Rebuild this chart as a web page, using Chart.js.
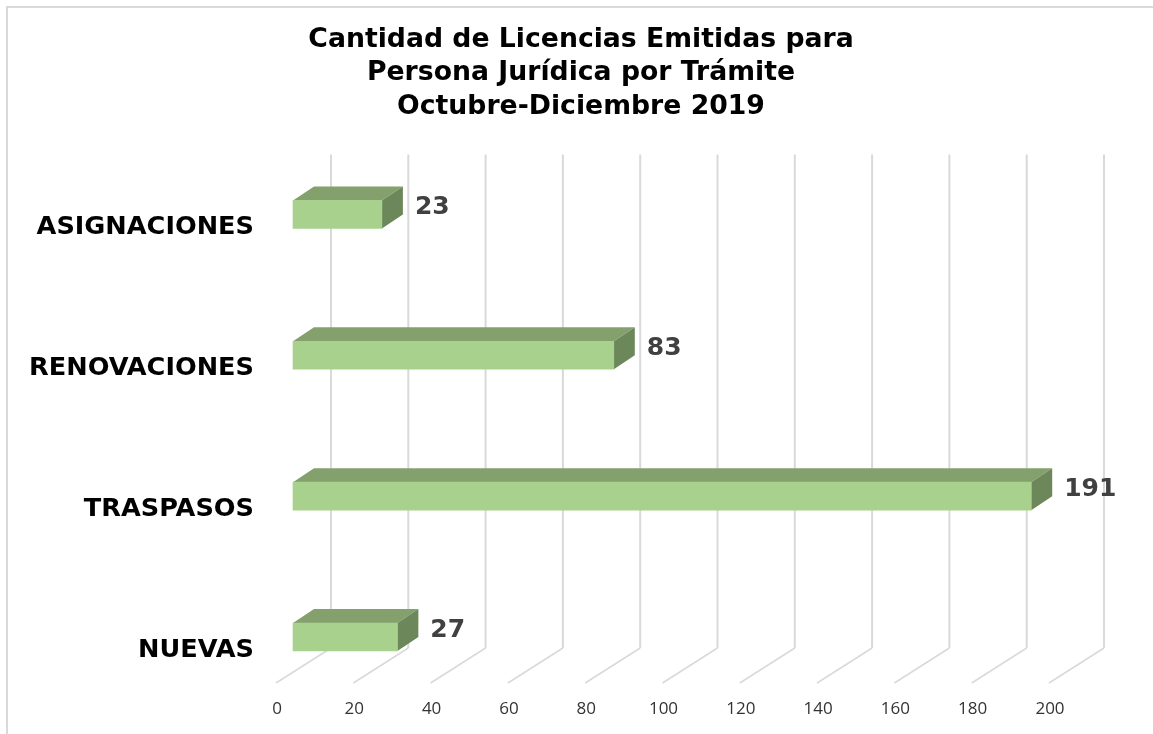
<!DOCTYPE html>
<html>
<head>
<meta charset="utf-8">
<title>Licencias Persona Jurídica</title>
<script src="https://cdn.jsdelivr.net/npm/chart.js@4"></script>
<style>
  html, body { margin: 0; padding: 0; background: #fff; }
  #wrap { width: 1153px; height: 734px; }
</style>
</head>
<body>
<div id="wrap"><canvas id="chart" width="1153" height="734"></canvas></div>
<script>
const tituloLineas = [
  "Cantidad de Licencias Emitidas para",
  "Persona Jurídica por Trámite",
  "Octubre-Diciembre 2019",
];
const tramites = ["ASIGNACIONES", "RENOVACIONES", "TRASPASOS", "NUEVAS"];
const licencias = [23, 83, 191, 27];
const ejeMin = 0;
const ejeMax = 200;
const ejePaso = 20;

const FONT = "'DejaVu Sans', Verdana, sans-serif";
// profundidad del efecto 3D
const depthX = 21;
const depthY = 14;

const efecto3d = {
  id: "efecto3d",
  afterLayout(chart) {
    // el titulo va centrado en todo el lienzo, no en el area del grafico
    chart.titleBlock.left = 9;
    chart.titleBlock.right = chart.width;
  },
  beforeDraw(chart) {
    const c = chart.ctx;
    c.save();
    c.strokeStyle = "#d9d9d9";
    c.lineWidth = 2;
    c.strokeRect(7, 7, 1200, 760);
    c.restore();
  },
  beforeDatasetsDraw(chart) {
    const c = chart.ctx;
    const xs = chart.scales.x;
    const area = chart.chartArea;
    const wallTop = area.top - 60;
    const wallBottom = area.bottom + 11;
    const floorBottom = area.bottom + 46;

    c.save();
    c.strokeStyle = "#d9d9d9";
    xs.ticks.forEach((t, i) => {
      const px = xs.getPixelForTick(i);
      c.lineWidth = 2;
      c.beginPath();
      c.moveTo(px + 38, wallTop);
      c.lineTo(px + 38, wallBottom);
      c.stroke();
      c.lineWidth = 1.5;
      c.beginPath();
      c.moveTo(px + 38, wallBottom);
      c.lineTo(px - 17, floorBottom);
      c.stroke();
    });

    // caras superior y lateral de cada barra
    chart.getDatasetMeta(0).data.forEach((bar) => {
      const top = bar.y - bar.height / 2;
      const bottom = bar.y + bar.height / 2;
      c.fillStyle = "#83a06d";
      c.beginPath();
      c.moveTo(bar.base, top);
      c.lineTo(bar.base + depthX, top - depthY);
      c.lineTo(bar.x + depthX, top - depthY);
      c.lineTo(bar.x, top);
      c.closePath();
      c.fill();
      c.fillStyle = "#6c8759";
      c.beginPath();
      c.moveTo(bar.x, top);
      c.lineTo(bar.x + depthX, top - depthY);
      c.lineTo(bar.x + depthX, bottom - depthY);
      c.lineTo(bar.x, bottom);
      c.closePath();
      c.fill();
    });
    c.restore();
  },
  afterDatasetsDraw(chart) {
    const c = chart.ctx;
    c.save();
    c.fillStyle = "#404040";
    c.font = "bold 25px " + FONT;
    c.textAlign = "left";
    c.textBaseline = "middle";
    chart.getDatasetMeta(0).data.forEach((bar, i) => {
      c.fillText(String(licencias[i]), bar.x + 33, bar.y - 7);
    });
    c.restore();
  },
};

new Chart(document.getElementById("chart"), {
  type: "bar",
  plugins: [efecto3d],
  data: {
    labels: tramites,
    datasets: [{
      data: licencias,
      backgroundColor: "#a9d18e",
      barThickness: 28,
      clip: false,
    }],
  },
  options: {
    indexAxis: "y",
    responsive: false,
    animation: false,
    layout: { padding: { left: 9, right: 87, top: 23, bottom: 0 } },
    plugins: {
      legend: { display: false },
      tooltip: { enabled: false },
      title: {
        display: true,
        text: tituloLineas,
        color: "#000000",
        font: { family: FONT, weight: "bold", size: 26.7, lineHeight: 1.26 },
        padding: { top: 0, bottom: 90.5 },
      },
    },
    scales: {
      x: {
        type: "linear",
        min: ejeMin,
        max: ejeMax,
        grid: { display: false, drawTicks: false },
        border: { display: false },
        ticks: {
          stepSize: ejePaso,
          maxRotation: 0,
          autoSkip: false,
          labelOffset: -16,
          padding: 62,
          color: "#333333",
          font: { family: "'Open Sans', sans-serif", size: 17 },
        },
        afterFit: (s) => { s.height = 97; },
      },
      y: {
        offset: false,
        grid: { display: false, drawTicks: false },
        border: { display: false },
        ticks: {
          autoSkip: false,
          padding: 39,
          labelOffset: 13,
          color: "#000000",
          font: { family: FONT, weight: "bold", size: 25.6 },
        },
        afterFit: (s) => { s.width = 284; },
      },
    },
  },
});
</script>
</body>
</html>
